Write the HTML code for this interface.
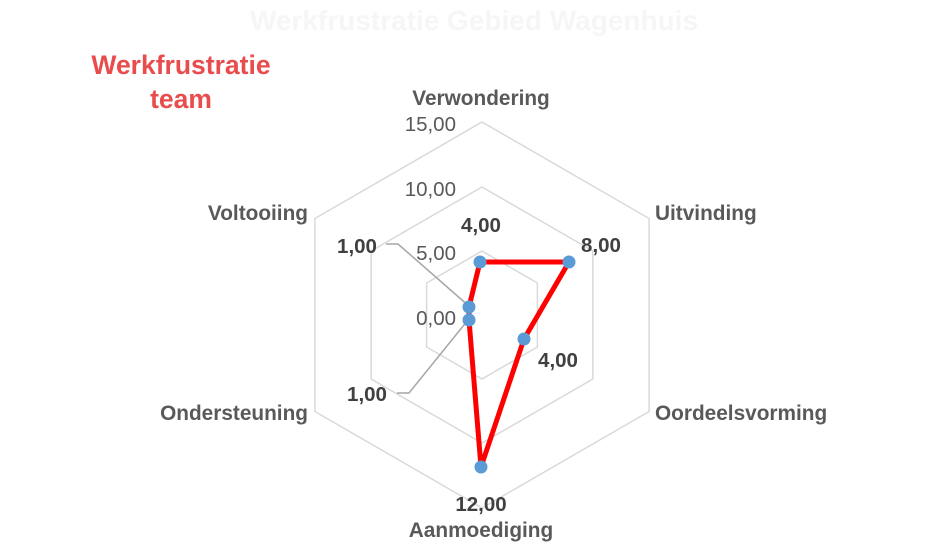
<!DOCTYPE html>
<html><head><meta charset="utf-8"><style>
html,body{margin:0;padding:0;background:#fff;}
svg{display:block;font-family:"Liberation Sans",sans-serif;}
</style></head><body>
<svg width="949" height="546" viewBox="0 0 949 546" xmlns="http://www.w3.org/2000/svg">
<rect width="949" height="546" fill="#fff"/>
<text x="474" y="30" text-anchor="middle" font-size="28" font-weight="bold" fill="#f6f6f6">Werkfrustratie Gebied Wagenhuis</text>
<text x="181" y="74" text-anchor="middle" font-size="26.5" font-weight="bold" fill="#e84c4c">Werkfrustratie</text>
<text x="181" y="108" text-anchor="middle" font-size="26.5" font-weight="bold" fill="#e84c4c">team</text>
<g fill="none" stroke="#d9d9d9" stroke-width="1.5">
<polygon points="482,251 537.4,283 537.4,347 482,379 426.6,347 426.6,283"/>
<polygon points="482,187 592.9,251 592.9,379 482,443 371.1,379 371.1,251"/>
<polygon points="482,122 649.1,218.5 649.1,411.5 482,508 314.9,411.5 314.9,218.5"/>
</g>
<g font-size="20.5" fill="#595959">
<text x="456" y="131" text-anchor="end">15,00</text>
<text x="456" y="196" text-anchor="end">10,00</text>
<text x="456" y="260" text-anchor="end">5,00</text>
<text x="456" y="325" text-anchor="end">0,00</text>
</g>
<g font-size="20.8" font-weight="bold" fill="#595959">
<text x="481" y="105" text-anchor="middle">Verwondering</text>
<text x="655" y="220">Uitvinding</text>
<text x="655" y="420">Oordeelsvorming</text>
<text x="481" y="537" text-anchor="middle">Aanmoediging</text>
<text x="308" y="420" text-anchor="end">Ondersteuning</text>
<text x="308" y="220" text-anchor="end">Voltooiing</text>
</g>
<g fill="none" stroke="#a6a6a6" stroke-width="1.5">
<polyline points="386,244 398,244 470,307"/>
<polyline points="397,393 409,393 468,320"/>
</g>
<polygon points="480,262 569,262 524,339 481,467 469,320 469,307" fill="none" stroke="#ff0000" stroke-width="5" stroke-linejoin="round"/>
<g fill="#5b9bd5">
<circle cx="480" cy="262" r="6.5"/><circle cx="569" cy="262" r="6.5"/>
<circle cx="524" cy="339" r="6.5"/><circle cx="481" cy="467" r="6.5"/>
<circle cx="469" cy="320" r="6.5"/><circle cx="469" cy="307" r="6.5"/>
</g>
<g font-size="20.5" font-weight="bold" fill="#404040">
<text x="481" y="232" text-anchor="middle">4,00</text>
<text x="601" y="252" text-anchor="middle">8,00</text>
<text x="558" y="367" text-anchor="middle">4,00</text>
<text x="481" y="511" text-anchor="middle">12,00</text>
<text x="357" y="253" text-anchor="middle">1,00</text>
<text x="367" y="401" text-anchor="middle">1,00</text>
</g>
</svg>
</body></html>
